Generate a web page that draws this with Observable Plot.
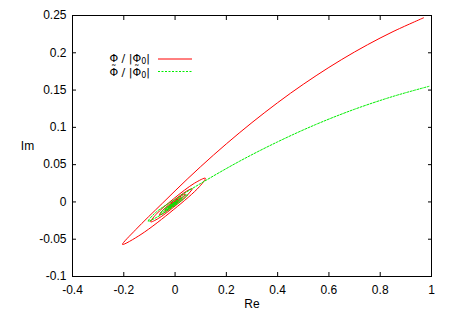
<!DOCTYPE html>
<html><head><meta charset="utf-8">
<script src="https://cdn.jsdelivr.net/npm/d3@7"></script>
<script src="https://cdn.jsdelivr.net/npm/@observablehq/plot@0.6"></script>
<style>body{margin:0;background:#fff} svg{display:block}</style>
</head><body><div id="chart"></div>
<script>
const xTicks = [-0.4, -0.2, 0, 0.2, 0.4, 0.6, 0.8, 1];
const xTickLabels = ["-0.4", "-0.2", "0", "0.2", "0.4", "0.6", "0.8", "1"];
const yTicks = [-0.1, -0.05, 0, 0.05, 0.1, 0.15, 0.2, 0.25];
const yTickLabels = ["-0.1", "-0.05", "0", "0.05", "0.1", "0.15", "0.2", "0.25"];
const axisTitles = ["Re", "Im"];

// Φ / |Φ0| (red)
const redRe = [0.969, 0.85, 0.75, 0.65, 0.55, 0.45, 0.35, 0.25, 0.15, 0.05, -0.05, -0.153, -0.205,
  -0.133, -0.005, 0.0954, 0.118,
  0.0761, -0.005, -0.0745, -0.095,
  -0.0654, -0.005, 0.0491, 0.067,
  0.0431, -0.005, -0.0474, -0.061,
  -0.0427, -0.005, 0.0288, 0.040,
  0.0250, -0.005, -0.0315, -0.040,
  -0.0285, -0.005, 0.0160, 0.023,
  0.0137, -0.005, -0.0216, -0.027,
  -0.0197, -0.005, 0.0079, 0.012,
  0.0063, -0.005, -0.0149, -0.018,
  -0.0137, -0.005, 0.0026, 0.005,
  0.0017, -0.005, -0.011, -0.013];
const redIm = [0.2469, 0.2284, 0.2107, 0.191, 0.1693, 0.1457, 0.120, 0.0924, 0.0629, 0.0314, -0.002, -0.037, -0.057,
  -0.0436, -0.0101, 0.0206, 0.0318,
  0.0252, 0.0044, -0.0169, -0.0268,
  -0.0222, -0.0069, 0.0096, 0.0178,
  0.0141, 0.0018, -0.0111, -0.0174,
  -0.0146, -0.0050, 0.0053, 0.0104,
  0.0081, 0.0004, -0.0077, -0.0116,
  -0.0099, -0.0039, 0.0025, 0.0057,
  0.0043, -0.0005, -0.0056, -0.0081,
  -0.0069, -0.0032, 0.0008, 0.0027,
  0.0018, -0.0011, -0.0041, -0.0056,
  -0.0049, -0.0027, -0.0004, 0.0008,
  0.0003, -0.0015, -0.0033, -0.0042];

// Φ~ / |Φ~0| (green)
const greenRe = [0.99, 0.85, 0.7, 0.55, 0.4, 0.25, 0.1, 0.0, -0.075, -0.105,
  -0.071, -0.01, 0.0386, 0.050,
  0.0303, -0.01, -0.0461, -0.058,
  -0.0422, -0.01, 0.0186, 0.028,
  0.0155, -0.01, -0.0326, -0.040,
  -0.0302, -0.01, 0.0080, 0.014,
  0.0061, -0.01, -0.0243, -0.029,
  -0.0227, -0.01, 0.0013, 0.005,
  0.0001, -0.01, -0.019, -0.022];
const greenIm = [0.155, 0.1415, 0.1243, 0.104, 0.0806, 0.0543, 0.0248, 0.0036, -0.014, -0.0259,
  -0.0205, -0.0071, 0.0052, 0.0098,
  0.0069, -0.0018, -0.0109, -0.0150,
  -0.0127, -0.0057, 0.0014, 0.0047,
  0.0029, -0.0026, -0.0083, -0.0109,
  -0.0094, -0.0051, -0.0006, 0.0015,
  0.0003, -0.0031, -0.0067, -0.0084,
  -0.0074, -0.0047, -0.0019, -0.0006,
  -0.0013, -0.0035, -0.0057, -0.0068];

const seriesLabels = ["Φ / |Φ", "Φ\u02DC / |Φ\u02DC"];

const red = redRe.map((x, i) => ({x, y: redIm[i]}));
const green = greenRe.map((x, i) => ({x, y: greenIm[i]}));

const FONT = "'Liberation Sans', Arial, sans-serif";
const KEYFONT = "'DejaVu Sans', sans-serif";
const xFmt = d => xTickLabels[xTicks.indexOf(d)];
const yFmt = d => yTickLabels[yTicks.indexOf(d)];

const chart = Plot.plot({
  width: 452, height: 316,
  marginLeft: 72, marginRight: 21, marginTop: 15, marginBottom: 40,
  style: {fontFamily: FONT, fontSize: "12px", background: "#fff", color: "#000"},
  x: {domain: [-0.4, 1], label: null},
  y: {domain: [-0.1, 0.25], label: null},
  marks: [
    Plot.line(red, {x: "x", y: "y", stroke: "#ff0000", strokeWidth: 1, curve: "catmull-rom", clip: true}),
    Plot.line(green, {x: "x", y: "y", stroke: "#00ee00", strokeWidth: 1, strokeDasharray: "2,1.5", curve: "catmull-rom", clip: true}),
    Plot.axisX(xTicks, {anchor: "bottom", tickSize: 0, tickPadding: 9, tickFormat: xFmt, fontSize: 12, label: null}),
    Plot.axisY(yTicks, {anchor: "left", tickSize: 0, tickPadding: 6, tickFormat: yFmt, fontSize: 12, label: null}),
    Plot.axisX(xTicks, {anchor: "bottom", tickSize: -4, tickFormat: () => "", label: null}),
    Plot.axisX(xTicks, {anchor: "top", tickSize: -4, tickFormat: () => "", label: null}),
    Plot.axisY(yTicks, {anchor: "left", tickSize: -4, tickFormat: () => "", label: null}),
    Plot.axisY(yTicks, {anchor: "right", tickSize: -4, tickFormat: () => "", label: null}),
    Plot.frame({stroke: "#000"}),
    Plot.text([axisTitles[0]], {frameAnchor: "bottom", dy: 31, fontSize: 12}),
    Plot.text([axisTitles[1]], {frameAnchor: "left", dx: -45, textAnchor: "middle", fontSize: 12})
  ]
});
document.getElementById("chart").appendChild(chart);

// legend (gnuplot-style key)
const svg = d3.select(chart);
const key = svg.append("g").attr("font-family", KEYFONT).attr("font-size", 11);
seriesLabels.forEach((label, i) => {
  const yb = i ? 75.5 : 61.5;
  const t = key.append("text").attr("x", 150).attr("y", yb).attr("text-anchor", "end");
  const head = t.append("tspan").text(label);
  const sub = t.append("tspan").attr("dy", 2.5).attr("font-size", 8).text("0");
  t.append("tspan").attr("dy", -2.5).text("|");
  if (label.includes("\u02DC")) {
    // place each spacing tilde over the preceding Φ
    const node = head.node();
    const chars = [...label];
    const dx = chars.map(() => 0), dy = chars.map(() => 0);
    let pendingBack = 0, lift = 0;
    chars.forEach((c, ci) => {
      if (c === "\u02DC") {
        const wPhi = node.getExtentOfChar(ci - 1).width;
        const wT = node.getExtentOfChar(ci).width;
        dx[ci] = -(wPhi + wT) / 2;
        dy[ci] = -3;
        pendingBack = (wPhi - wT) / 2;
        lift = 3;
      } else if (lift) {
        dx[ci] = pendingBack; dy[ci] = lift;
        pendingBack = 0; lift = 0;
      }
    });
    head.attr("dx", dx.join(" ")).attr("dy", dy.join(" "));
    sub.attr("dx", pendingBack).attr("dy", 2.5 + lift);
  }
  key.append("line").attr("x1", 158).attr("x2", 192).attr("y1", i ? 71.5 : 59).attr("y2", i ? 71.5 : 59)
    .attr("stroke", i ? "#00ee00" : "#ff0000").attr("stroke-width", 1).attr("stroke-dasharray", i ? "2,1.5" : null);
});
</script>
</body></html>
